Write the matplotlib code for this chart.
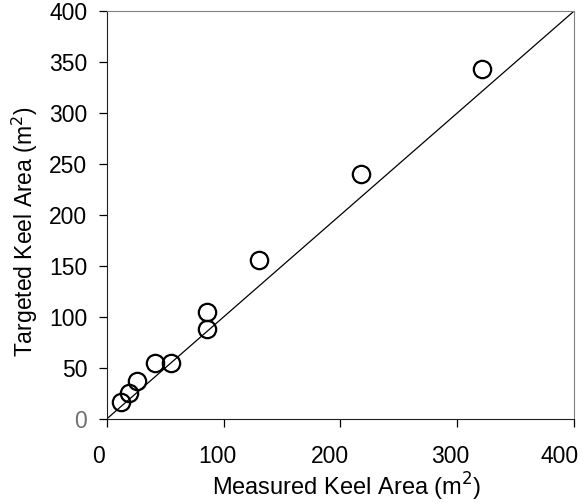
import matplotlib
matplotlib.use("Agg")
import matplotlib.pyplot as plt
import matplotlib.transforms as mtransforms
import numpy as np

plt.rcParams["font.family"] = ["Liberation Sans", "DejaVu Sans"]

# measured vs targeted keel area (m^2)
measured = [12.5, 19, 26, 41, 55, 85.5, 85.5, 130, 218, 321]
targeted = [16.5, 25, 37.5, 54.5, 54.5, 88, 104.5, 156, 240.5, 343]
x_ticks = [0, 100, 200, 300, 400]
y_ticks = [0, 50, 100, 150, 200, 250, 300, 350, 400]

fig = plt.figure(figsize=(5.84, 5.04), dpi=100, facecolor="w")
ax = fig.add_axes([0.1827, 0.1687, 0.8002, 0.8093])

# 1:1 line
ax.plot([0, 400], [0, 400], color="k", lw=0.9)
ax.plot(measured, targeted, "o", ms=12.5, mfc="none", mec="k", mew=1.6, clip_on=False)

ax.set_xlim(0, 400)
ax.set_ylim(0, 400)
ax.set_xticks(x_ticks)
ax.set_yticks(y_ticks)
ax.tick_params(axis="both", direction="out", length=6, width=0.9, labelsize=16.5)
ax.tick_params(axis="x", pad=13)
ax.tick_params(axis="y", pad=8)

# x tick labels sit a bit left of their ticks
shifts = [-8, -6, -10, -7, -14]
for lab, dx in zip(ax.get_xticklabels(), shifts):
    lab.set_transform(lab.get_transform() + mtransforms.ScaledTranslation(dx / 100, 0, fig.dpi_scale_trans))
ax.get_yticklabels()[0].set_color("#707070")

for s in ["top", "right"]:
    ax.spines[s].set_color("#808080")
for s in ["left", "bottom"]:
    ax.spines[s].set_color("#202020")

ax.set_xlabel("Measured Keel Area (m$^2$)", fontsize=17, va="baseline")
ax.xaxis.set_label_coords(0.513, -0.188)
ax.set_ylabel("Targeted Keel Area (m$^2$)", fontsize=16.5, va="baseline")
ax.yaxis.set_label_coords(-0.157, 0.459)

fig.savefig("out.png", dpi=100)
